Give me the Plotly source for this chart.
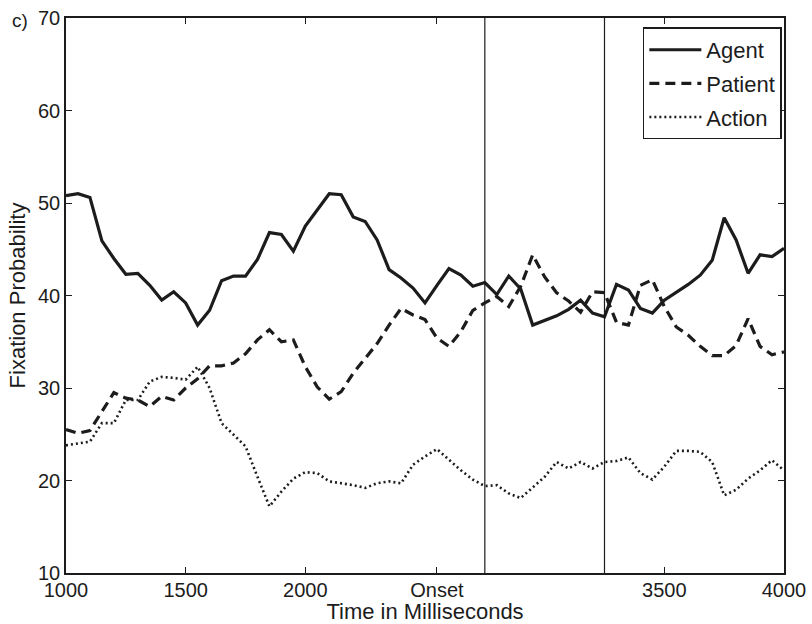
import plotly.graph_objects as go

# ---- data ----
time_ms = list(range(1000, 4001, 50))

agent = [50.8, 51.0, 50.6, 45.9, 44.0, 42.3, 42.4, 41.1, 39.5, 40.4,
         39.2, 36.8, 38.4, 41.6, 42.1, 42.1, 43.9, 46.8, 46.6, 44.8,
         47.5, 49.2, 51.0, 50.9, 48.5, 48.0, 46.0, 42.8, 41.9, 40.8,
         39.2, 41.1, 42.9, 42.2, 41.0, 41.4, 40.1, 42.1, 40.7, 36.8,
         37.3, 37.8, 38.5, 39.5, 38.1, 37.7, 41.2, 40.6, 38.6, 38.1,
         39.5, 40.3, 41.2, 42.2, 43.8, 48.4, 46.0, 42.4, 44.4, 44.2,
         45.1]

patient = [25.5, 25.1, 25.4, 27.4, 29.5, 28.9, 28.7, 28.0, 29.1, 28.7,
           30.0, 31.0, 32.4, 32.4, 32.7, 33.7, 35.2, 36.3, 35.0, 35.2,
           32.3, 30.1, 28.8, 29.6, 31.6, 33.2, 34.8, 36.8, 38.6, 37.9,
           37.4, 35.4, 34.5, 36.1, 38.4, 39.2, 39.9, 38.8, 41.0, 44.4,
           42.0, 40.3, 39.4, 38.2, 40.4, 40.3, 37.1, 36.8, 41.1, 41.7,
           38.8, 36.6, 35.7, 34.5, 33.5, 33.5, 34.6, 37.5, 34.5, 33.6,
           33.9]

action = [23.8, 24.0, 24.2, 26.2, 26.2, 28.7, 28.7, 30.7, 31.2, 31.1,
          30.9, 32.3, 30.0, 26.2, 24.9, 23.7, 20.4, 17.2, 18.8, 20.2,
          20.9, 20.8, 19.9, 19.7, 19.5, 19.2, 19.7, 19.9, 19.7, 21.7,
          22.6, 23.4, 22.2, 21.1, 20.1, 19.4, 19.5, 18.6, 18.1, 19.3,
          20.4, 22.0, 21.3, 22.0, 21.3, 22.0, 22.1, 22.5, 20.8, 20.1,
          21.5, 23.2, 23.2, 23.1, 22.0, 18.4, 19.0, 20.2, 21.1, 22.2,
          21.1]

series_names = ["Agent", "Patient", "Action"]
event_times = [2750, 3250]

x_tickvals = [1000, 1500, 2000, 2550, 3500, 4000]
x_ticktext = ["1000", "1500", "2000", "Onset", "3500", "4000"]
y_tickvals = [10, 20, 30, 40, 50, 60, 70]

# ---- styling ----
INK = "#1c1c1c"
FONT = "Liberation Sans, Arial, Helvetica, sans-serif"

fig = go.Figure()
styles = [
    dict(width=3.2, dash="solid"),
    dict(width=3.2, dash="10px,6px"),
    dict(width=2.6, dash="2px,3px"),
]
for name, vals, st in zip(series_names, [agent, patient, action], styles):
    fig.add_trace(go.Scatter(
        x=time_ms, y=vals, mode="lines", name=name, legendgroup=name,
        line=dict(color=INK, width=st["width"], dash=st["dash"]),
    ))

for t in event_times:
    fig.add_shape(type="line", xref="x", yref="paper", x0=t, x1=t, y0=0, y1=1,
                  line=dict(color=INK, width=1.2))

axis_common = dict(
    showline=True, linecolor=INK, linewidth=1.6, mirror="ticks",
    ticks="inside", ticklen=6, tickwidth=1, tickcolor=INK,
    showgrid=False, zeroline=False, automargin=False,
    tickfont=dict(family=FONT, size=20, color=INK),
)

fig.update_layout(
    width=812, height=624,
    margin=dict(l=66, r=28, t=18, b=51),
    paper_bgcolor="white", plot_bgcolor="white",
    font=dict(family=FONT, color=INK),
    xaxis=dict(range=[1000, 4000], tickvals=x_tickvals, ticktext=x_ticktext,
               ticklabelstandoff=-2,
               title=dict(text="Time in Milliseconds", font=dict(size=22), standoff=0),
               **axis_common),
    yaxis=dict(range=[10, 70], tickvals=y_tickvals,
               title=dict(text="Fixation Probability", font=dict(size=22), standoff=6),
               **axis_common),
    legend=dict(x=0.997, y=0.983, xanchor="right", yanchor="top",
                bgcolor="white", bordercolor=INK, borderwidth=1.5,
                itemwidth=52, tracegroupgap=2, traceorder="grouped",
                font=dict(family=FONT, size=22, color=INK)),
    showlegend=True,
)

fig.add_annotation(text="c)", xref="paper", yref="paper", x=-0.064, y=0.996,
                   xanchor="center", yanchor="middle", showarrow=False,
                   font=dict(family=FONT, size=19, color=INK))

fig.write_html("out.html")
